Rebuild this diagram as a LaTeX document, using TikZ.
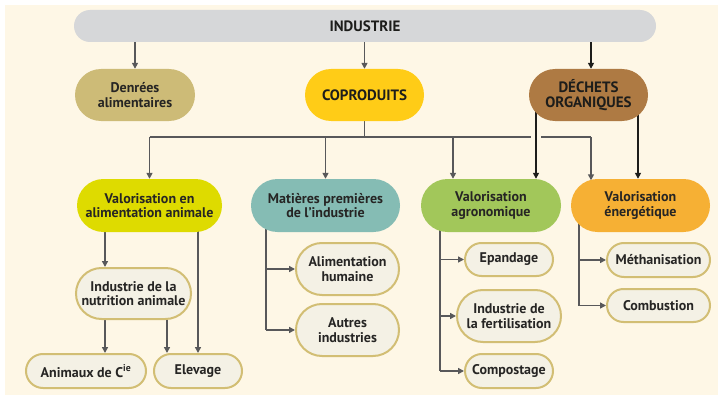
\documentclass[tikz,border=0pt]{standalone}
\usepackage{fontspec}
\setmainfont{PT Sans}
\usetikzlibrary{shapes.misc,arrows.meta,calc}
\pgfdeclarelayer{back}
\pgfdeclarelayer{lines}
\pgfsetlayers{back,lines,main}
\definecolor{cream}{HTML}{FEF7E6}
\definecolor{indgray}{HTML}{D6D7D9}
\definecolor{dencol}{HTML}{CDBB77}
\definecolor{copcol}{HTML}{FFCC17}
\definecolor{deccol}{HTML}{AE7A43}
\definecolor{vaacol}{HTML}{DEDB00}
\definecolor{matcol}{HTML}{85BCB4}
\definecolor{vagcol}{HTML}{A2C75A}
\definecolor{vencol}{HTML}{F6B034}
\definecolor{leaffill}{HTML}{F4F1E5}
\definecolor{leafborder}{HTML}{D2BE74}
\definecolor{arrgray}{HTML}{58585A}
\definecolor{txt}{HTML}{262524}
\definecolor{blk}{HTML}{1D1D1B}
\tikzset{
  base/.style={rounded rectangle, inner sep=0pt, align=center, text=txt,
    font=\bfseries\fontsize{14}{14.5}\selectfont},
  caps/.style={base, text=blk, font=\bfseries\fontsize{15}{15.5}\selectfont},
  leaf/.style={base, fill=leaffill, draw=leafborder, line width=2pt},
  gline/.style={draw=arrgray, line width=1.5pt, line join=miter},
  garr/.style={gline, -{Triangle[length=6pt,width=6pt]}},
  barr/.style={draw=blk, line width=1.8pt, -{Triangle[length=6pt,width=6pt]}}
}
\begin{document}
\begin{tikzpicture}[x=1pt,y=-1pt]
\useasboundingbox (0,0) rectangle (718,396);
\begin{pgfonlayer}{back}
\fill[white] (0,0) rectangle (718,396);
\fill[cream] (5,5) rectangle (718,395);
\end{pgfonlayer}

% top level
\node[caps, fill=indgray, minimum width=582pt, minimum height=32pt] (ind) at (365,26) {INDUSTRIE};
\node[base, fill=dencol, minimum width=120pt, minimum height=52pt] (den) at (135,95) {Denrées\\alimentaires};
\node[caps, fill=copcol, minimum width=119pt, minimum height=52pt] (cop) at (364.5,95) {COPRODUITS};
\node[caps, fill=deccol, minimum width=119pt, minimum height=52pt] (dec) at (588.5,95) {DÉCHETS\\ORGANIQUES};

% second level
\node[base, fill=vaacol, minimum width=145pt, minimum height=53pt] (vaa) at (149.5,205.5) {Valorisation en\\alimentation animale};
\node[base, fill=matcol, minimum width=149pt, minimum height=53pt] (mat) at (325.5,205.5) {Matières premières\\de l'industrie};
\node[base, fill=vagcol, minimum width=140pt, minimum height=53pt] (vag) at (491,205.5) {Valorisation\\agronomique};
\node[base, fill=vencol, minimum width=139pt, minimum height=53pt] (ven) at (640.5,205.5) {Valorisation\\énergétique};

% leaves
\node[leaf, minimum width=115pt, minimum height=51pt] (ina) at (133.5,293.5) {Industrie de la\\nutrition animale};
\node[leaf, minimum width=120pt, minimum height=34pt] (ani) at (86,371) {Animaux de C\textsuperscript{ie}};
\node[leaf, minimum width=88pt, minimum height=34pt] (ele) at (198,371) {Elevage};
\node[leaf, minimum width=103pt, minimum height=52pt] (alh) at (347.5,269) {Alimentation\\humaine};
\node[leaf, minimum width=103pt, minimum height=52pt] (aut) at (347.5,330) {Autres\\industries};
\node[leaf, minimum width=88pt, minimum height=33pt] (epa) at (509,259.5) {Epandage};
\node[leaf, minimum width=104pt, minimum height=52pt] (ife) at (509,316) {Industrie de\\la fertilisation};
\node[leaf, minimum width=88pt, minimum height=34pt] (com) at (509,371) {Compostage};
\node[leaf, minimum width=103pt, minimum height=34pt] (met) at (658.5,260) {Méthanisation};
\node[leaf, minimum width=103pt, minimum height=33pt] (cbu) at (658.5,305.5) {Combustion};

% helper coordinates
\coordinate (bus) at (0,137);
\coordinate (xag) at (453,0);
\coordinate (xen) at (591,0);
\coordinate (xd1) at (536,0);
\coordinate (gapl) at (531,0);
\coordinate (gapr) at (541,0);
\coordinate (xd2) at (638,0);
\coordinate (xvaa) at (105,0);
\coordinate (xina) at (167,0);
\coordinate (xmat) at (266,0);
\coordinate (xvag) at (440,0);
\coordinate (xven) at (579,0);

\begin{pgfonlayer}{lines}
\draw[garr] (ind.center -| den.north) -- (den.north);
\draw[garr] (ind.center -| cop.north) -- (cop.north);
\draw[barr] (ind.center -| xen) -- (dec.north -| xen);

\draw[gline] (cop.center) -- (cop.center |- bus);
\draw[gline] (bus -| vaa.north) -- (bus -| gapl);
\draw[gline] (bus -| gapr) -- (bus -| xen);
\draw[garr] (bus -| vaa.north) -- (vaa.north);
\draw[garr] (bus -| mat.north) -- (mat.north);
\draw[garr] (bus -| xag) -- (vag.north -| xag);
\draw[garr] (bus -| xen) -- ($(ven.north -| xen)+(0,1.5)$);

\draw[barr] (dec.center -| xd1) -- (vag.north -| xd1);
\draw[barr] (dec.center -| xd2) -- (ven.north -| xd2);

\draw[garr] (vaa.center -| xvaa) -- (ina.north -| xvaa);
\draw[garr] (vaa.center -| ele.north) -- (ele.north);
\draw[garr] (ina.center -| xvaa) -- (ani.north -| xvaa);
\draw[garr] (ina.center -| xina) -- (ele.north -| xina);

\draw[gline] (mat.center -| xmat) -- (aut.west -| xmat);
\draw[garr] (alh.west -| xmat) -- (alh.west);
\draw[garr] (aut.west -| xmat) -- (aut.west);

\draw[gline] (vag.center -| xvag) -- (com.west -| xvag);
\draw[garr] (epa.west -| xvag) -- (epa.west);
\draw[garr] (ife.west -| xvag) -- (ife.west);
\draw[garr] (com.west -| xvag) -- (com.west);

\draw[gline] (ven.center -| xven) -- (cbu.west -| xven);
\draw[garr] (met.west -| xven) -- (met.west);
\draw[garr] (cbu.west -| xven) -- (cbu.west);
\end{pgfonlayer}
\end{tikzpicture}
\end{document}
